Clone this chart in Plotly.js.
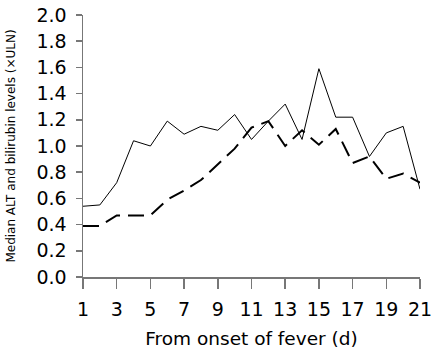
<!DOCTYPE html>
<html>
<head>
<meta charset="utf-8">
<script src="https://cdn.plot.ly/plotly-3.0.1.min.js"></script>
<style>html,body{margin:0;padding:0;background:#fff;}#chart{width:435px;height:354px;}</style>
</head>
<body>
<div id="chart"></div>
<script>
var days = [1,2,3,4,5,6,7,8,9,10,11,12,13,14,15,16,17,18,19,20,21];
var altValues = [0.54,0.55,0.72,1.04,1.00,1.19,1.09,1.15,1.12,1.24,1.05,1.19,1.32,1.05,1.59,1.22,1.22,0.92,1.10,1.15,0.67];
var bilirubinValues = [0.39,0.39,0.47,0.47,0.47,0.59,0.66,0.74,0.86,0.98,1.14,1.19,1.00,1.12,1.01,1.13,0.87,0.92,0.75,0.79,0.72];
var xTickVals = [1,3,5,7,9,11,13,15,17,19,21];
var yTickVals = [0,0.2,0.4,0.6,0.8,1.0,1.2,1.4,1.6,1.8,2.0];

var font = "DejaVu Sans, Verdana, sans-serif";
var traces = [
  {x: days, y: altValues, mode: 'lines', name: 'ALT',
   line: {color: '#000', width: 1}},
  {x: days, y: bilirubinValues, mode: 'lines', name: 'Bilirubin',
   line: {color: '#000', width: 2, dash: '16px,8px'}}
];
var layout = {
  width: 435, height: 354,
  margin: {l: 83, r: 15, t: 15, b: 77},
  paper_bgcolor: '#fff', plot_bgcolor: '#fff',
  showlegend: false,
  font: {family: font, color: '#000'},
  xaxis: {
    range: [1, 21], tickvals: xTickVals, ticktext: xTickVals.map(String),
    showgrid: false, zeroline: false, showline: true, linecolor: '#777', linewidth: 1.5,
    ticks: 'outside', ticklen: 10, tickcolor: '#777', tickwidth: 1.5,
    ticklabelstandoff: 5,
    tickfont: {family: font, size: 19, color: '#000'},
    title: {text: 'From onset of fever (d)', font: {family: font, size: 18.5, color: '#000'}, standoff: 13}
  },
  yaxis: {
    range: [0, 2], tickvals: yTickVals, ticktext: yTickVals.map(function(v){return v.toFixed(1);}),
    showgrid: false, zeroline: false, showline: true, linecolor: '#777', linewidth: 1.5,
    ticks: 'outside', ticklen: 6, tickcolor: '#777', tickwidth: 1.5,
    ticklabelstandoff: 5,
    tickfont: {family: font, size: 19, color: '#000'},
    title: {text: 'Median ALT and bilirubin levels (×ULN)', font: {family: font, size: 12, color: '#000'}, standoff: 18}
  }
};
Plotly.newPlot('chart', traces, layout, {staticPlot: true, displayModeBar: false});
</script>
</body>
</html>
